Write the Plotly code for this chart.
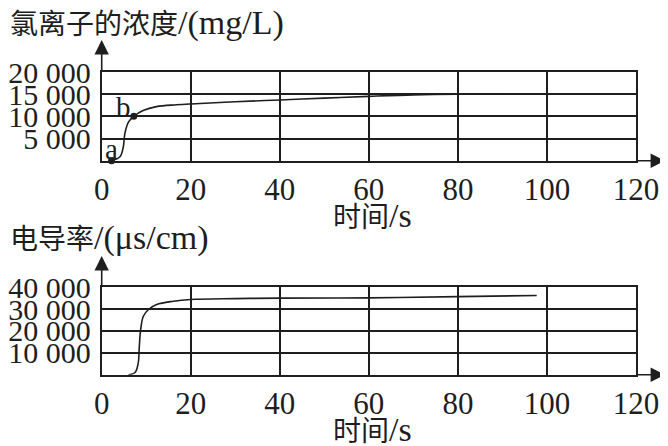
import plotly.graph_objs as go

# chloride concentration (mg/L) vs time (s)
cl_time = [2.2, 4.1, 4.85, 5.2, 6.0, 7.2, 9.3, 12.3, 16.8, 20, 30, 40, 50, 60, 70, 80, 90, 97]
cl_conc = [0, 900, 3100, 6100, 8700, 10000, 11300, 12200, 12600, 12800, 13300, 13700, 14100, 14500, 14850, 15000, 15000, 15000]

# conductivity (us/cm) vs time (s)
ec_time = [6.0, 7.5, 8.2, 8.45, 8.75, 9.35, 10.5, 12.35, 16.1, 20, 30, 40, 60, 80, 97.7]
ec_val = [0, 1000, 5300, 13000, 20600, 26700, 29800, 32100, 33600, 34400, 34800, 35000, 35100, 35700, 36200]

# labelled points
pt_names = ["a", "b"]
pt_time = [2.2, 7.2]
pt_conc = [0, 10000]

x_ticks = [0, 20, 40, 60, 80, 100, 120]
cl_ticks = [5000, 10000, 15000, 20000]
cl_ticktext = ["5 000", "10 000", "15 000", "20 000"]
ec_ticks = [10000, 20000, 30000, 40000]
ec_ticktext = ["10 000", "20 000", "30 000", "40 000"]

INK = "#1e1e1e"
SERIF = "Liberation Serif, Times New Roman, serif"
CJK = "Noto Sans CJK SC"

# the page body has an 8px margin, so the figure is drawn a bit smaller
W, H, OFF = 660, 438, 8


def px(x):
    return (x - OFF) / W


def py(y):
    return 1 - (y - OFF) / H


def cn(txt):
    return '<span style="font-family:%s;font-size:28px">%s</span>' % (CJK, txt)


fig = go.Figure()
fig.add_trace(go.Scatter(x=cl_time, y=cl_conc, mode="lines", line=dict(color=INK, width=1.6, shape="spline"),
                         xaxis="x", yaxis="y", showlegend=False))
fig.add_trace(go.Scatter(x=pt_time, y=pt_conc, mode="markers", marker=dict(color=INK, size=7),
                         xaxis="x", yaxis="y", showlegend=False, cliponaxis=False))
fig.add_trace(go.Scatter(x=ec_time, y=ec_val, mode="lines", line=dict(color=INK, width=1.6, shape="spline"),
                         xaxis="x2", yaxis="y2", showlegend=False))

xa = dict(range=[0, 120], domain=[px(101.7), px(636)], tickvals=x_ticks, ticktext=[str(v) for v in x_ticks],
          showgrid=True, gridcolor=INK, gridwidth=1.6, showline=True, linecolor=INK, linewidth=1.8,
          mirror=True, zeroline=False, ticks="", ticklabelstandoff=0, automargin=False,
          tickfont=dict(family=SERIF, size=31, color=INK))
ya = dict(showgrid=True, gridcolor=INK, gridwidth=1.6, showline=True, linecolor=INK, linewidth=1.8,
          mirror=True, zeroline=False, ticks="", ticklabelstandoff=3, automargin=False,
          tickfont=dict(family=SERIF, size=30, color=INK))

fig.update_layout(
    width=W, height=H, autosize=False,
    margin=dict(l=0, r=0, t=0, b=0),
    paper_bgcolor="white", plot_bgcolor="white",
    xaxis=dict(xa, anchor="y"),
    yaxis=dict(ya, anchor="x", range=[0, 20000], domain=[py(160.7), py(72)],
               tickvals=cl_ticks, ticktext=cl_ticktext),
    xaxis2=dict(xa, anchor="y2"),
    yaxis2=dict(ya, anchor="x2", range=[0, 40000], domain=[py(374.7), py(287.2)],
                tickvals=ec_ticks, ticktext=ec_ticktext),
)

# axis arrows, placed in paper space
arrow = dict(showarrow=True, arrowhead=2, arrowsize=1.8, arrowwidth=1.6, arrowcolor=INK, text="",
             xref="paper", yref="paper")
anns = [
    dict(arrow, x=px(101.7), y=py(40), ax=0, ay=33),
    dict(arrow, x=px(665), y=py(160.7), ax=-30, ay=0),
    dict(arrow, x=px(101.7), y=py(256), ax=0, ay=32),
    dict(arrow, x=px(665), y=py(374.7), ax=-30, ay=0),
    dict(text=cn("氯离子的浓度") + "/(mg/L)", x=0, y=py(22), xref="paper", yref="paper",
         xanchor="left", yanchor="middle", showarrow=False),
    dict(text=cn("电导率") + "/(μs/cm)", x=0, y=py(237), xref="paper", yref="paper",
         xanchor="left", yanchor="middle", showarrow=False),
    dict(text=cn("时间") + "/s", x=px(373), y=py(215), xref="paper", yref="paper",
         xanchor="center", yanchor="middle", showarrow=False),
    dict(text=cn("时间") + "/s", x=px(373), y=py(451), xref="paper", yref="paper",
         xanchor="center", yanchor="bottom", showarrow=False),
]
# letters next to the marked points
anns.append(dict(text=pt_names[0], x=2.1, y=2750, xref="x", yref="y", showarrow=False,
                 font=dict(family=SERIF, size=29, color=INK)))
anns.append(dict(text=pt_names[1], x=4.85, y=12000, xref="x", yref="y", showarrow=False,
                 font=dict(family=SERIF, size=29, color=INK)))
fig.update_layout(annotations=anns, font=dict(family=SERIF, size=34, color=INK))

fig.write_html("out.html")
